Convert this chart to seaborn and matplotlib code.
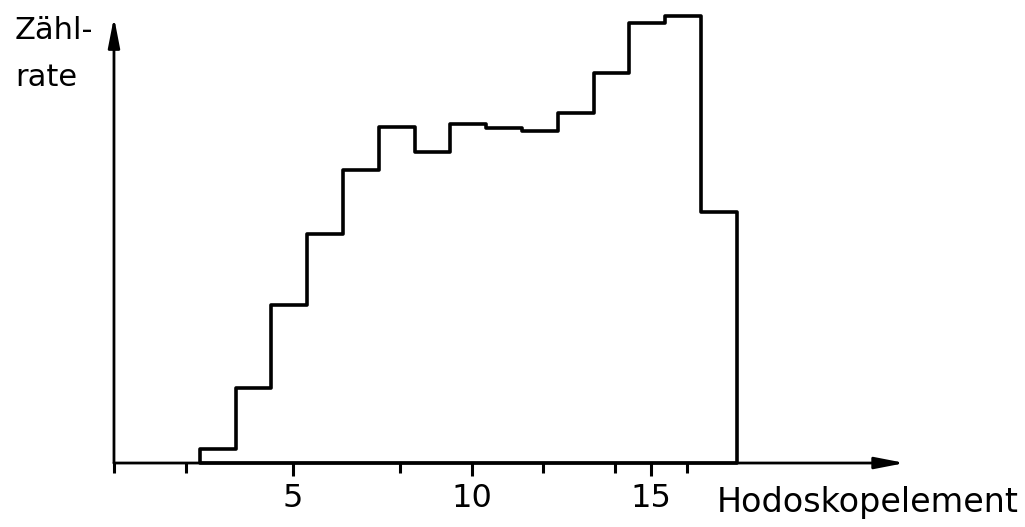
import matplotlib
matplotlib.use("Agg")
import matplotlib.pyplot as plt
import seaborn as sns
import numpy as np
import pandas as pd

# Hodoskop elements and count rate (arbitrary units)
elements = [3, 4, 5, 6, 7, 8, 9, 10, 11, 12, 13, 14, 15, 16, 17]
counts = [14, 75, 158, 229, 293, 336, 311, 339, 335, 332, 350, 390, 440, 447, 251]

major_ticks = [5, 10, 15]
major_labels = ["5", "10", "15"]
minor_ticks = [0, 2, 8, 12, 14, 16]

y_label = "Zähl-\nrate"
x_label = "Hodoskopelement"

sns.set_style("white")
plt.rcParams["font.family"] = ["DejaVu Sans"]
plt.rcParams["text.color"] = "black"
plt.rcParams["xtick.color"] = "black"

df = pd.DataFrame({"element": elements, "count": counts})

fig = plt.figure(figsize=(10.25, 5.27), dpi=100)
ax = fig.add_axes([0.1112, 0.1214, 0.7717, 0.846])

# bin edges sit a little left of the half-integers in the original drawing
edges = list(np.arange(len(elements) + 1) + elements[0] - 0.6)
sns.histplot(data=df, x="element", weights="count", bins=edges,
             element="step", fill=True, color="black", facecolor="none",
             edgecolor="black", linewidth=2.6, clip_on=False, ax=ax)

ax.set_xlim(0, 22.1)
ax.set_ylim(0, 446)
for s in ax.spines.values():
    s.set_visible(False)

ax.set_xticks(major_ticks, major_labels)
ax.set_xticks(minor_ticks, minor=True)
ax.set_yticks([])
ax.tick_params(axis="x", which="major", direction="out", length=9.5, width=2.2,
               pad=5, labelsize=23, colors="black", bottom=True)
ax.tick_params(axis="x", which="minor", direction="out", length=7, width=2.2,
               colors="black", bottom=True)
ax.set_xlabel("")
ax.set_ylabel("")

arrow = dict(arrowstyle="-|>,head_length=1.8,head_width=0.35", color="black",
             lw=2.0, shrinkA=0, shrinkB=0, mutation_scale=10)
ax.annotate("", xy=(1, 0), xytext=(0, 0), xycoords="axes fraction",
            arrowprops=arrow, annotation_clip=False)
ax.annotate("", xy=(0, 1), xytext=(0, 0), xycoords="axes fraction",
            arrowprops=arrow, annotation_clip=False)

fig.text(15 / 1025, 1 - 16 / 527, y_label, ha="left", va="top", fontsize=22,
         linespacing=1.78)
fig.text(717 / 1025, 1 - 486 / 527, x_label, ha="left", va="top", fontsize=24)

fig.savefig("out.png", dpi=100, facecolor="white")
